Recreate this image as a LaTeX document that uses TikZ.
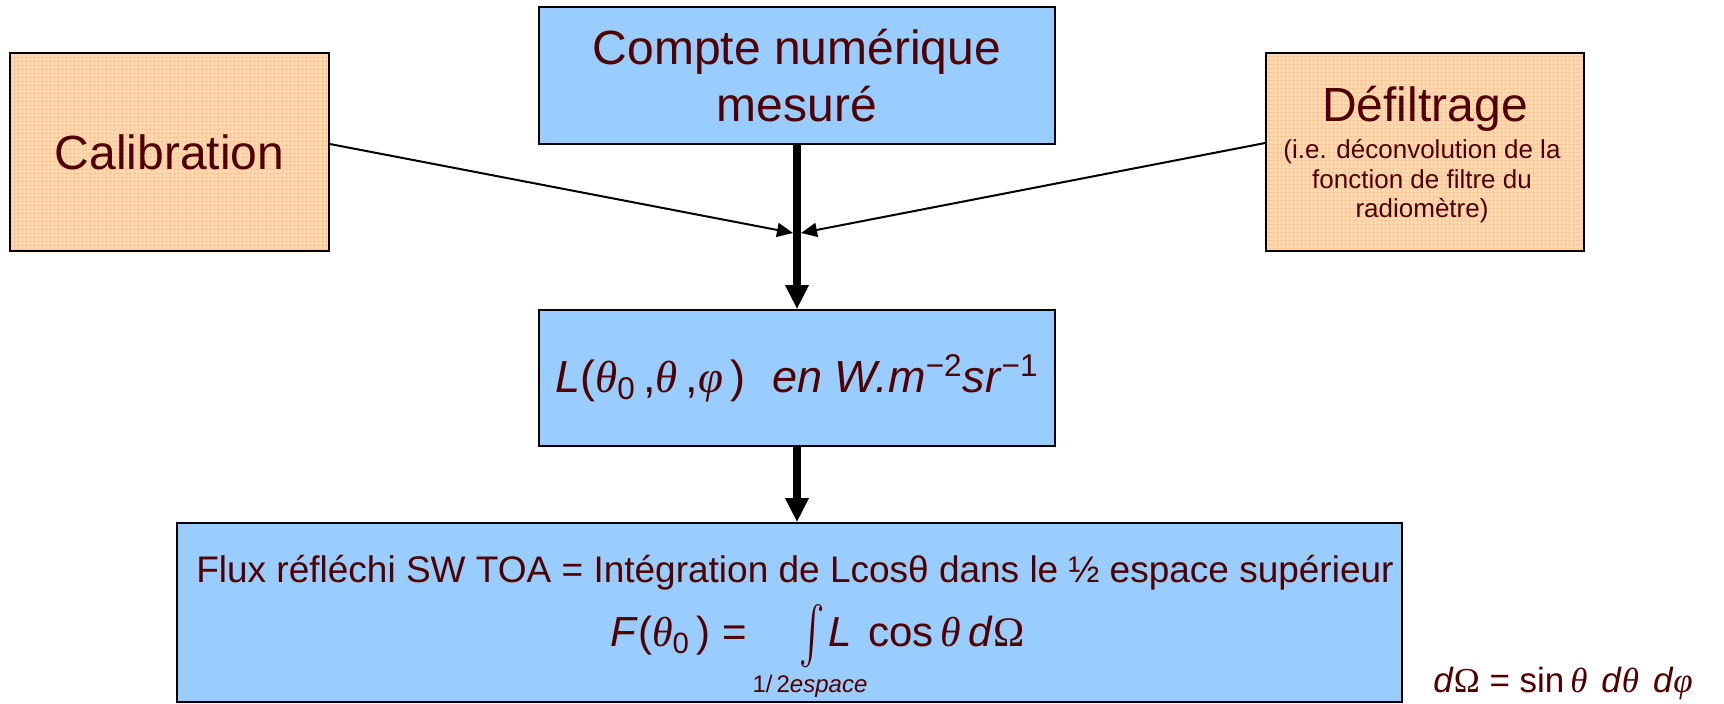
\RequirePackage{fix-cm}
\documentclass[tikz,border=0pt]{standalone}
\usepackage{fontspec}
\setmainfont{Liberation Sans}
\newfontfamily\gk{Liberation Serif}
\newcommand\gth{{\gk\itshape θ}}
\newcommand\gph{{\gk\itshape φ}}
\newcommand\gom{{\gk Ω}}
\usetikzlibrary{arrows.meta}
\definecolor{txt}{RGB}{80,0,0}
\definecolor{boxblue}{RGB}{153,204,255}
\definecolor{peach}{RGB}{255,220,184}
\definecolor{peachgrid}{RGB}{255,200,150}
\begin{document}
\begin{tikzpicture}[x=0.5pt,y=-0.5pt,
  bluebox/.style={draw=black, line width=0.8pt, fill=boxblue, inner sep=0pt, text=txt, align=center},
  orangebox/.style={draw=black, line width=0.8pt, fill=peach, inner sep=0pt, text=txt, align=center,
    path picture={\draw[peachgrid, line width=0.3pt] (path picture bounding box.south west) grid[step=2pt] (path picture bounding box.north east);}},
  lbl/.style={inner sep=0pt, text=txt},
  thickarr/.style={line width=3.8pt, -{Triangle[length=12pt,width=11pt]}},
  thinarr/.style={line width=1pt, -{Triangle[length=8pt,width=7pt]}}]
\useasboundingbox (0,0) rectangle (1724,704);

% boxes
\node[orangebox, minimum width=159.5pt, minimum height=99pt, font=\fontsize{24}{28}\selectfont] (cal) at (169.5,152) {Calibration};
\node[orangebox, minimum width=159pt, minimum height=99pt] (def) at (1425,152) {};
\node[bluebox, minimum width=258pt, minimum height=68.5pt, font=\fontsize{24}{28.5}\selectfont] (cpt) at (797,75.5) {Compte numérique\\mesuré};
\node[bluebox, minimum width=258pt, minimum height=68pt, font=\fontsize{22.5}{26}\selectfont] (lbox) at (797,378)
  {\textit{L}(\gth\textsubscript{0}\,,\gth\,,\gph\,)\hspace{0.6em}\textit{en W.m}\textsuperscript{−2}\textit{sr}\textsuperscript{−1}};
\node[bluebox, minimum width=612.5pt, minimum height=89.5pt] (flux) at (789.5,612.5) {};

% Defiltrage texts
\node[lbl, anchor=base, font=\fontsize{24}{28}\selectfont] (deft) at (1425,122) {Défiltrage};
\node[lbl, anchor=base, font=\fontsize{13}{15}\selectfont] (defa) at (1422,159) {(i.e. déconvolution de la};
\node[lbl, anchor=base, font=\fontsize{13}{15}\selectfont] (defb) at (1422,189) {fonction de filtre du};
\node[lbl, anchor=base, font=\fontsize{13}{15}\selectfont] (defc) at (1422,218) {radiomètre)};

% flux texts
\node[lbl, anchor=base, font=\fontsize{18.5}{22}\selectfont] (fl1) at (795,583) {Flux réfléchi SW TOA = Intégration de Lcosθ dans le ½ espace supérieur};
\node[lbl, anchor=base west, font=\fontsize{21}{25}\selectfont] (flhs) at (610,647) {\textit{F}(\gth\textsubscript{0}\,) =};
\node[lbl] (fint) at (812,636) {\scalebox{1.9}[2.85]{$\int$}};
\node[lbl, anchor=base west, font=\fontsize{21}{25}\selectfont] (frhs) at (828,647) {\textit{L}\hspace{0.4em}cos\,\gth\,\textit{d}\gom};
\node[lbl, anchor=base, font=\fontsize{12}{14}\selectfont] (flim) at (810,693) {1/\,2\textit{espace}};

% side formula
\node[lbl, anchor=base west, font=\fontsize{17.5}{21}\selectfont] (dom) at (1433,693) {\textit{d}\gom\ = sin\,\gth\hspace{0.4em}\textit{d}\gth\hspace{0.4em}\textit{d}\gph};

% connectors
\coordinate (mL) at (793,233);
\coordinate (mR) at (801,233);
\draw[thinarr] ([yshift=4pt]cal.east) -- (mL);
\draw[thinarr] ([yshift=4.5pt]def.west) -- (mR);
\draw[thickarr] (cpt.south) -- (lbox.north);
\draw[thickarr] (lbox.south) -- (lbox.south |- flux.north);
\end{tikzpicture}
\end{document}
